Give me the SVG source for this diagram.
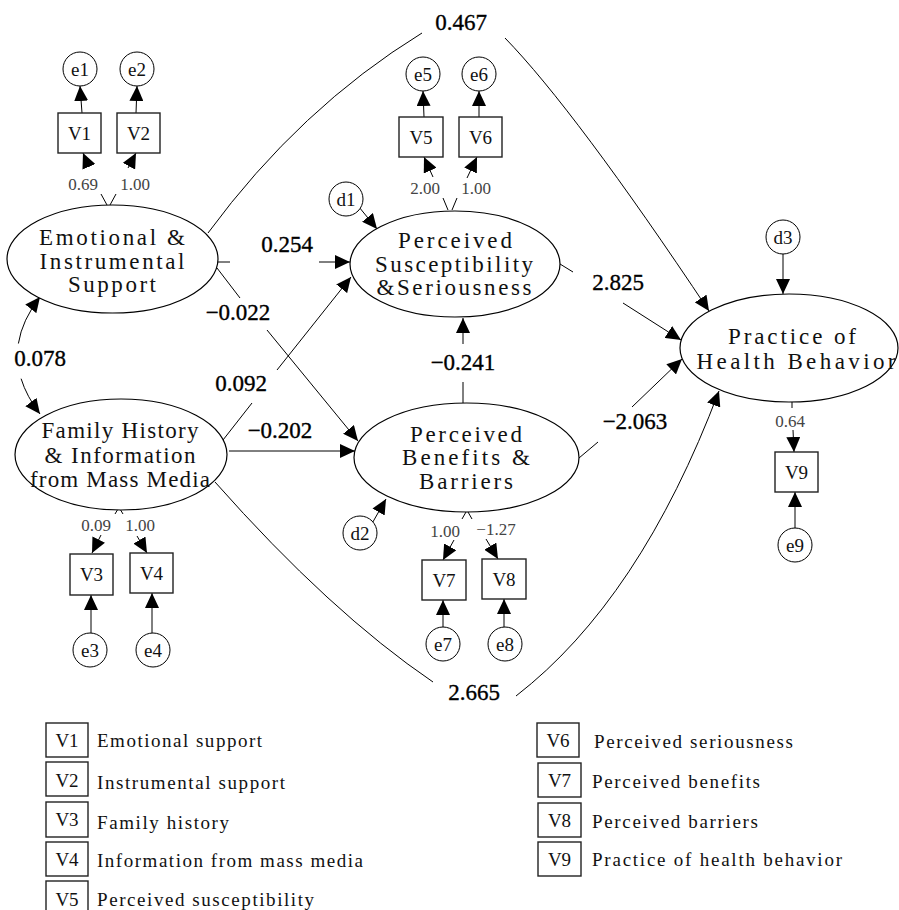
<svg xmlns="http://www.w3.org/2000/svg" width="899" height="910" viewBox="0 0 899 910" font-family="'Liberation Serif', 'DejaVu Serif', serif">
<style>
.ln{stroke:#000;stroke-width:1;fill:none}
.ar{marker-end:url(#ah)}
.ell{fill:#fff;stroke:#000;stroke-width:1.2}
.box{fill:#fff;stroke:#222;stroke-width:1.4}
.cir{fill:#fff;stroke:#000;stroke-width:1}
.lat,.coef,.ld,.vt,.et,.lg{font-family:'Liberation Serif','DejaVu Serif',serif;fill:#111}
.lat{font-size:23px;text-anchor:middle}
.coef{font-size:23px;text-anchor:middle;fill:#000;stroke:#000;stroke-width:0.35}
.ld{font-size:17px;text-anchor:middle;fill:#444}
.vt{font-size:19px;text-anchor:middle}
.et{font-size:19px;text-anchor:middle}
.lg{font-size:19px}
</style>
<defs>
<marker id="ah" viewBox="0 0 15 14" refX="15" refY="7" markerWidth="15" markerHeight="14" markerUnits="userSpaceOnUse" orient="auto-start-reverse">
<path d="M0,0 L15,7 L0,14 z" fill="#000"/>
</marker>
</defs>
<rect width="899" height="910" fill="#fff"/>

<g id="connectors">
<path class="ln" d="M208,233 Q300,108 422,33"/>
<path class="ln ar" d="M505,38 Q575,110 709,311"/>
<path class="ln" d="M215,482 Q330,612 433,682"/>
<path class="ln ar" d="M516,696 Q640,600 719,391"/>
<path class="ln" d="M40,297 Q22,320.2 18.4,343.5" style="marker-start:url(#ah)"/>
<path class="ln ar" d="M21.1,378.7 Q26.5,396.3 40,414"/>
<line class="ln" x1="218" y1="262" x2="230" y2="262"/>
<line class="ln ar" x1="319" y1="262" x2="350" y2="262"/>
<line class="ln" x1="217" y1="268" x2="240" y2="298"/>
<line class="ln ar" x1="267" y1="330" x2="358" y2="441"/>
<line class="ln" x1="223" y1="440" x2="252" y2="403"/>
<line class="ln ar" x1="277" y1="370" x2="351" y2="277"/>
<line class="ln ar" x1="229" y1="451" x2="355" y2="451"/>
<line class="ln" x1="463" y1="403" x2="463" y2="382"/>
<line class="ln ar" x1="463" y1="344" x2="463" y2="318"/>
<line class="ln" x1="560" y1="264" x2="573" y2="272"/>
<line class="ln ar" x1="623" y1="303" x2="681" y2="340"/>
<line class="ln" x1="579" y1="458" x2="598" y2="442"/>
<line class="ln ar" x1="632" y1="407" x2="682" y2="359"/>
<line class="ln ar" x1="359" y1="207" x2="377" y2="229"/>
<line class="ln ar" x1="370" y1="527" x2="386" y2="499"/>
<line class="ln ar" x1="783" y1="254" x2="783" y2="294"/>
<line class="ln" x1="107" y1="205" x2="101" y2="194"/>
<line class="ln ar" x1="89" y1="167" x2="83" y2="153"/>
<line class="ln" x1="110" y1="205" x2="116" y2="194"/>
<line class="ln ar" x1="128" y1="168" x2="136" y2="153"/>
<line class="ln" x1="448" y1="210" x2="443" y2="198"/>
<line class="ln ar" x1="433" y1="177" x2="424" y2="157"/>
<line class="ln" x1="452" y1="210" x2="457" y2="198"/>
<line class="ln ar" x1="467" y1="178" x2="477" y2="157"/>
<line class="ln" x1="118" y1="509" x2="115" y2="514"/>
<line class="ln ar" x1="101" y1="535" x2="92" y2="553"/>
<line class="ln" x1="120" y1="509" x2="123" y2="514"/>
<line class="ln ar" x1="137" y1="536" x2="147" y2="553"/>
<line class="ln" x1="466" y1="512" x2="462" y2="519"/>
<line class="ln ar" x1="454" y1="540" x2="443" y2="560"/>
<line class="ln" x1="468" y1="512" x2="472" y2="519"/>
<line class="ln ar" x1="486" y1="539" x2="498" y2="559"/>
<line class="ln" x1="792" y1="402" x2="792" y2="408"/>
<line class="ln ar" x1="793" y1="430" x2="794" y2="452"/>
<line class="ln ar" x1="82" y1="113" x2="80" y2="86"/>
<line class="ln ar" x1="136" y1="113" x2="137" y2="86"/>
<line class="ln ar" x1="424" y1="117" x2="423" y2="91"/>
<line class="ln ar" x1="479" y1="117" x2="479" y2="91"/>
<line class="ln ar" x1="91" y1="633" x2="91" y2="595"/>
<line class="ln ar" x1="152" y1="633" x2="152" y2="593"/>
<line class="ln ar" x1="443" y1="627" x2="443" y2="600"/>
<line class="ln ar" x1="504" y1="627" x2="504" y2="599"/>
<line class="ln ar" x1="795" y1="528" x2="795" y2="492"/>
</g>

<g id="labels">
<text class="coef" x="461" y="30">0.467</text>
<text class="coef" x="287" y="252">0.254</text>
<text class="coef" x="238" y="320">−0.022</text>
<text class="coef" x="241" y="391">0.092</text>
<text class="coef" x="280" y="438">−0.202</text>
<text class="coef" x="40" y="366">0.078</text>
<text class="coef" x="463" y="370">−0.241</text>
<text class="coef" x="618" y="290">2.825</text>
<text class="coef" x="635" y="429">−2.063</text>
<text class="coef" x="474" y="700">2.665</text>
<text class="ld" x="83" y="190">0.69</text>
<text class="ld" x="135" y="190">1.00</text>
<text class="ld" x="425" y="194">2.00</text>
<text class="ld" x="476" y="194">1.00</text>
<text class="ld" x="96" y="531">0.09</text>
<text class="ld" x="140" y="531">1.00</text>
<text class="ld" x="445" y="537">1.00</text>
<text class="ld" x="496" y="535">−1.27</text>
<text class="ld" x="790" y="427">0.64</text>
</g>

<g id="emotional">
<ellipse class="ell" cx="112.5" cy="259" rx="105.5" ry="54"/>
<text class="lat" x="112" y="245" textLength="146">Emotional &amp;</text>
<text class="lat" x="112" y="269" textLength="145">Instrumental</text>
<text class="lat" x="112" y="292" textLength="88">Support</text>
</g>
<g id="family">
<ellipse class="ell" cx="121" cy="454.5" rx="106" ry="55.5"/>
<text class="lat" x="120" y="438" textLength="157">Family History</text>
<text class="lat" x="120" y="463" textLength="151">&amp; Information</text>
<text class="lat" x="120" y="487" textLength="180">from Mass Media</text>
</g>
<g id="susceptibility">
<ellipse class="ell" cx="455" cy="264" rx="105" ry="53"/>
<text class="lat" x="455" y="248" textLength="114">Perceived</text>
<text class="lat" x="454" y="272" textLength="158">Susceptibility</text>
<text class="lat" x="454" y="295" textLength="155">&amp;Seriousness</text>
</g>
<g id="benefits">
<ellipse class="ell" cx="466.5" cy="457.5" rx="112.5" ry="54.5"/>
<text class="lat" x="466" y="442" textLength="112">Perceived</text>
<text class="lat" x="466" y="465" textLength="128">Benefits &amp;</text>
<text class="lat" x="466" y="489" textLength="94">Barriers</text>
</g>
<g id="practice">
<ellipse class="ell" cx="789" cy="348" rx="109" ry="54"/>
<text class="lat" x="792" y="344" textLength="128">Practice of</text>
<text class="lat" x="796" y="369" textLength="199">Health Behavior</text>
</g>

<g id="V1"><rect class="box" x="58" y="113" width="43" height="40"/><text class="vt" x="79.5" y="140">V1</text></g>
<g id="V2"><rect class="box" x="117" y="113" width="43" height="40"/><text class="vt" x="138.5" y="140">V2</text></g>
<g id="V3"><rect class="box" x="70" y="554" width="43" height="41"/><text class="vt" x="91.5" y="581">V3</text></g>
<g id="V4"><rect class="box" x="130" y="553" width="43" height="40"/><text class="vt" x="151.5" y="580">V4</text></g>
<g id="V5"><rect class="box" x="399" y="117" width="44" height="40"/><text class="vt" x="421" y="144">V5</text></g>
<g id="V6"><rect class="box" x="459" y="117" width="43" height="40"/><text class="vt" x="480.5" y="144">V6</text></g>
<g id="V7"><rect class="box" x="422" y="560" width="44" height="40"/><text class="vt" x="444" y="587">V7</text></g>
<g id="V8"><rect class="box" x="482" y="559" width="44" height="40"/><text class="vt" x="504" y="586">V8</text></g>
<g id="V9"><rect class="box" x="775" y="452" width="43" height="40"/><text class="vt" x="796.5" y="479">V9</text></g>

<g id="e1"><circle class="cir" cx="80" cy="69" r="17"/><text class="et" x="80" y="76">e1</text></g>
<g id="e2"><circle class="cir" cx="137" cy="69" r="17"/><text class="et" x="137" y="76">e2</text></g>
<g id="e3"><circle class="cir" cx="90" cy="650" r="17"/><text class="et" x="90" y="657">e3</text></g>
<g id="e4"><circle class="cir" cx="153" cy="650" r="17"/><text class="et" x="153" y="657">e4</text></g>
<g id="e5"><circle class="cir" cx="423" cy="74" r="17"/><text class="et" x="423" y="81">e5</text></g>
<g id="e6"><circle class="cir" cx="479" cy="74" r="17"/><text class="et" x="479" y="81">e6</text></g>
<g id="e7"><circle class="cir" cx="443" cy="644" r="17"/><text class="et" x="443" y="651">e7</text></g>
<g id="e8"><circle class="cir" cx="505" cy="644" r="17"/><text class="et" x="505" y="651">e8</text></g>
<g id="e9"><circle class="cir" cx="795" cy="545" r="17"/><text class="et" x="795" y="552">e9</text></g>
<g id="d1"><circle class="cir" cx="346" cy="199" r="17"/><text class="et" x="346" y="206">d1</text></g>
<g id="d2"><circle class="cir" cx="360" cy="533" r="17"/><text class="et" x="360" y="540">d2</text></g>
<g id="d3"><circle class="cir" cx="783" cy="237" r="17"/><text class="et" x="783" y="244">d3</text></g>

<g id="legend">
<rect class="box" x="46" y="723" width="42" height="34"/><text class="vt" x="67" y="747">V1</text>
<text class="lg" x="97" y="747" textLength="165">Emotional support</text>
<rect class="box" x="46" y="762" width="42" height="34"/><text class="vt" x="67" y="787">V2</text>
<text class="lg" x="97" y="789" textLength="188">Instrumental support</text>
<rect class="box" x="46" y="802" width="42" height="35"/><text class="vt" x="67" y="826">V3</text>
<text class="lg" x="97" y="829" textLength="132">Family history</text>
<rect class="box" x="46" y="842" width="42" height="34"/><text class="vt" x="67" y="866">V4</text>
<text class="lg" x="97" y="867" textLength="266">Information from mass media</text>
<rect class="box" x="46" y="881" width="42" height="34"/><text class="vt" x="67" y="906">V5</text>
<text class="lg" x="97" y="906" textLength="217">Perceived susceptibility</text>
<rect class="box" x="537" y="723" width="42" height="34"/><text class="vt" x="558" y="747">V6</text>
<text class="lg" x="594" y="748" textLength="199">Perceived seriousness</text>
<rect class="box" x="538" y="763" width="43" height="34"/><text class="vt" x="559.5" y="787">V7</text>
<text class="lg" x="592" y="788" textLength="168">Perceived benefits</text>
<rect class="box" x="538" y="803" width="43" height="34"/><text class="vt" x="559.5" y="827">V8</text>
<text class="lg" x="592" y="828" textLength="166">Perceived barriers</text>
<rect class="box" x="538" y="842" width="43" height="34"/><text class="vt" x="559.5" y="866">V9</text>
<text class="lg" x="592" y="866" textLength="250">Practice of health behavior</text>
</g>
</svg>
